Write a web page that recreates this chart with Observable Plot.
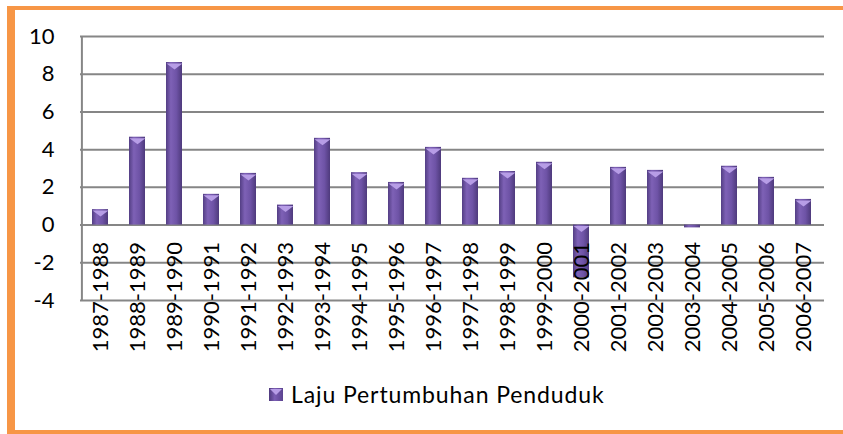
<!DOCTYPE html>
<html>
<head>
<meta charset="utf-8">
<script src="https://cdn.jsdelivr.net/npm/d3@7"></script>
<script src="https://cdn.jsdelivr.net/npm/@observablehq/plot@0.6"></script>
<style>
  html, body { margin: 0; padding: 0; background: #fff; }
  #wrap { position: relative; width: 843px; height: 434px; overflow: hidden; font-family: Lato, sans-serif; }
  #wrap svg { position: absolute; left: 0; top: 0; }
  .bd { position: absolute; background: #F79646; }
  #legend { position: absolute; left: 269px; top: 380px; font-size: 23px; letter-spacing: 0.9px; color: #000; display: flex; align-items: center; white-space: nowrap; }
  #legend .sw { width: 14px; height: 13px; margin-right: 8px; background: linear-gradient(to right, #4E3A7D, #7B5DB3 40%, #5B4390); position: relative; }
  #legend .sw::after { content: ""; position: absolute; left: 1px; top: 1px; border-left: 6px solid transparent; border-right: 6px solid transparent; border-top: 6px solid #B79DE6; }
</style>
</head>
<body>
<div id="wrap"></div>
<script>
const periods = ["1987-1988","1988-1989","1989-1990","1990-1991","1991-1992","1992-1993","1993-1994","1994-1995","1995-1996","1996-1997","1997-1998","1998-1999","1999-2000","2000-2001","2001-2002","2002-2003","2003-2004","2004-2005","2005-2006","2006-2007"];
const growth = [0.82, 4.66, 8.62, 1.63, 2.74, 1.06, 4.6, 2.78, 2.26, 4.12, 2.48, 2.84, 3.33, -2.8, 3.06, 2.9, -0.15, 3.12, 2.53, 1.36];
const yTicks = [-4, -2, 0, 2, 4, 6, 8, 10];
const seriesName = "Laju Pertumbuhan Penduduk";

const data = periods.map((p, i) => ({period: p, value: growth[i]}));

const capSymbol = {
  draw(context, size) {
    const w = 8, h = 6;
    context.moveTo(-w, -h / 2);
    context.lineTo(w, -h / 2);
    context.lineTo(0, h / 2);
    context.closePath();
  }
};

const chart = Plot.plot({
  width: 843,
  height: 434,
  marginLeft: 80,
  marginRight: 19,
  marginTop: 36,
  marginBottom: 134,
  style: {fontFamily: "Lato, sans-serif", fontSize: "22px", background: "transparent"},
  x: {domain: periods, paddingInner: 0.56, paddingOuter: 0.28, axis: null},
  y: {domain: [-4, 10], ticks: yTicks},
  marks: [
    Plot.gridY(yTicks, {stroke: "#868686", strokeOpacity: 1, strokeWidth: 2}),
    Plot.axisY(yTicks, {tickSize: 0, tickPadding: 26, fontSize: 22, fill: "#000", label: null, tickFormat: d => String(d)}),
    Plot.ruleX([0], {x: () => periods[0], dx: -18.6, y1: -4, y2: 10, stroke: "#868686", strokeWidth: 2}),
    Plot.barY(data, {x: "period", y: "value", fill: "url(#barGrad)"}),
    Plot.dot(data.filter(d => Math.abs(d.value) > 0.5), {x: "period", y: d => Math.max(d.value, 0), symbol: capSymbol, r: 4, fill: "#B79DE6", stroke: "none", dy: 4}),
    Plot.text(data, {x: "period", y: () => 0, text: "period", rotate: -90, textAnchor: "end", dy: 17, fontSize: 22, fill: "#000"})
  ]
});

// gradient definition for cylinder-like bars
const ns = "http://www.w3.org/2000/svg";
const defs = document.createElementNS(ns, "defs");
const grad = document.createElementNS(ns, "linearGradient");
grad.setAttribute("id", "barGrad");
grad.setAttribute("x1", "0"); grad.setAttribute("x2", "1");
grad.setAttribute("y1", "0"); grad.setAttribute("y2", "0");
[["0%", "#533E84"], ["30%", "#7E61B6"], ["65%", "#6E53A6"], ["100%", "#4E3A7C"]].forEach(([o, c]) => {
  const s = document.createElementNS(ns, "stop");
  s.setAttribute("offset", o); s.setAttribute("stop-color", c);
  grad.appendChild(s);
});
defs.appendChild(grad);
chart.insertBefore(defs, chart.firstChild);

const wrap = document.getElementById("wrap");
wrap.appendChild(chart);

// orange frame
[[7, 6, 836, 4], [7, 6, 8, 428], [7, 430, 836, 4]].forEach(([l, t, w, h]) => {
  const d = document.createElement("div");
  d.className = "bd";
  d.style.left = l + "px"; d.style.top = t + "px"; d.style.width = w + "px"; d.style.height = h + "px";
  wrap.appendChild(d);
});

// legend
const lg = document.createElement("div");
lg.id = "legend";
const sw = document.createElement("span"); sw.className = "sw";
const tx = document.createElement("span"); tx.textContent = seriesName;
lg.appendChild(sw); lg.appendChild(tx);
wrap.appendChild(lg);
</script>
</body>
</html>
